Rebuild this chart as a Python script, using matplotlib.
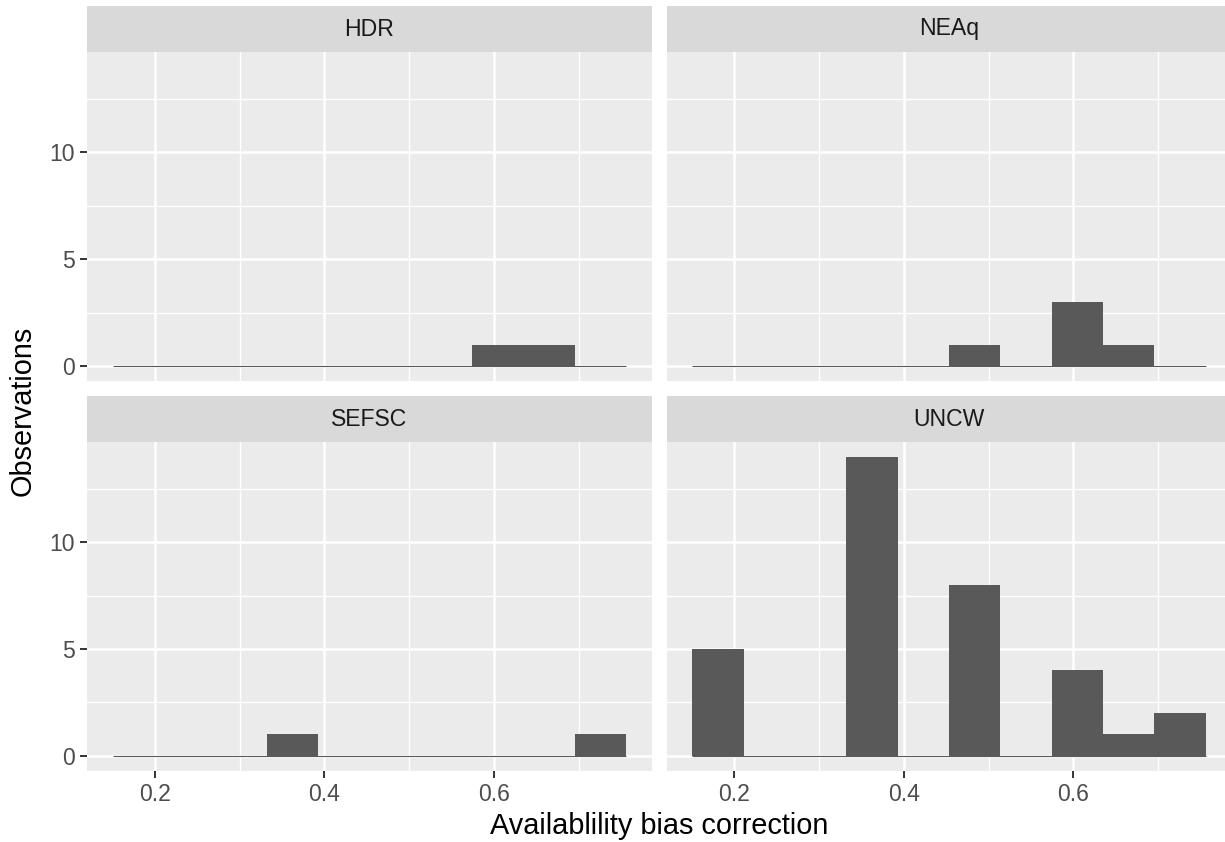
import numpy as np
import matplotlib
matplotlib.use("Agg")
import matplotlib.pyplot as plt

plt.rcParams["font.family"] = ["Liberation Sans", "DejaVu Sans"]

# Histogram of availability bias correction, one panel per source
facets = ["HDR", "NEAq", "SEFSC", "UNCW"]
bin_low = 0.1505
bin_high = 0.7560
n_bins = 10
counts_hdr = [0, 0, 0, 0, 0, 0, 0, 1, 1, 0]
counts_neaq = [0, 0, 0, 0, 0, 1, 0, 3, 1, 0]
counts_sefsc = [0, 0, 0, 1, 0, 0, 0, 0, 0, 1]
counts_uncw = [5, 0, 0, 14, 0, 8, 0, 4, 1, 2]
x_major = [0.2, 0.4, 0.6]
x_minor = [0.3, 0.5, 0.7]
x_labels = ["0.2", "0.4", "0.6"]
y_major = [0, 5, 10]
y_minor = [2.5, 7.5, 12.5]
y_labels = ["0", "5", "10"]
x_title = "Availablility bias correction"
y_title = "Observations"

all_counts = [counts_hdr, counts_neaq, counts_sefsc, counts_uncw]

W, H = 1225, 842
fig = plt.figure(figsize=(W / 100, H / 100), dpi=100)

PANEL_BG = "#EBEBEB"
STRIP_BG = "#D9D9D9"
BAR = "#595959"
AX_TEXT = "#4D4D4D"
TICK = "#333333"

edges = np.linspace(bin_low, bin_high, n_bins + 1)
bw = edges[1] - edges[0]
span = bin_high - bin_low
xlim = (bin_low - 0.05 * span, bin_high + 0.05 * span)
ymax = max(max(c) for c in all_counts)
ylim = (-0.05 * ymax, ymax * 1.05)

# panel boxes in pixels: (left, top, right, bottom)
cols = [(87, 652), (666.5, 1231.5)]
rows = [(52, 381), (442, 770.7)]
strip_h = 46


def px_box(l, t, r, b):
    return [l / W, (H - b) / H, (r - l) / W, (b - t) / H]


tick_fs = 16.6
for i, (name, counts) in enumerate(zip(facets, all_counts)):
    row, col = divmod(i, 2)
    l, r = cols[col]
    t, b = rows[row]
    ax = fig.add_axes(px_box(l, t, r, b))
    ax.set_facecolor(PANEL_BG)
    ax.set_xlim(*xlim)
    ax.set_ylim(*ylim)
    for s in ax.spines.values():
        s.set_visible(False)

    for v in x_minor:
        ax.axvline(v, color="white", lw=0.95, zorder=0.5)
    for v in y_minor:
        ax.axhline(v, color="white", lw=0.95, zorder=0.5)
    for v in x_major:
        ax.axvline(v, color="white", lw=1.8, zorder=0.6)
    for v in y_major:
        ax.axhline(v, color="white", lw=1.8, zorder=0.6)

    ax.bar(edges[:-1], counts, width=bw, align="edge", color=BAR,
           linewidth=0, zorder=2)
    ax.hlines(0, bin_low, bin_high, color=BAR, lw=0.8, zorder=2)

    ax.set_xticks(x_major)
    ax.set_yticks(y_major)
    ax.tick_params(axis="both", length=5, width=1.4, color=TICK,
                   labelcolor=AX_TEXT, labelsize=tick_fs)
    ax.tick_params(axis="x", pad=3.5)
    ax.tick_params(axis="y", pad=3.5)
    if row == 1:
        ax.set_xticklabels(x_labels)
    else:
        ax.tick_params(axis="x", length=0, labelbottom=False)
    if col == 0:
        ax.set_yticklabels(y_labels)
    else:
        ax.tick_params(axis="y", length=0, labelleft=False)

    sax = fig.add_axes(px_box(l, t - strip_h, r, t))
    sax.set_facecolor(STRIP_BG)
    sax.set_xticks([])
    sax.set_yticks([])
    for s in sax.spines.values():
        s.set_visible(False)
    sax.text(0.5, 0.5, name, transform=sax.transAxes, ha="center",
             va="center", fontsize=tick_fs, color="#1A1A1A")

fig.text((87 + 1231.5) / 2 / W, (H - 834) / H, x_title, ha="center",
         va="baseline", fontsize=20.8, color="black")
fig.text(23 / W, (H - (52 + 770.7) / 2) / H, y_title, ha="center",
         va="center", rotation=90, fontsize=20.8, color="black")

fig.savefig("out.png", dpi=100, facecolor="white")
